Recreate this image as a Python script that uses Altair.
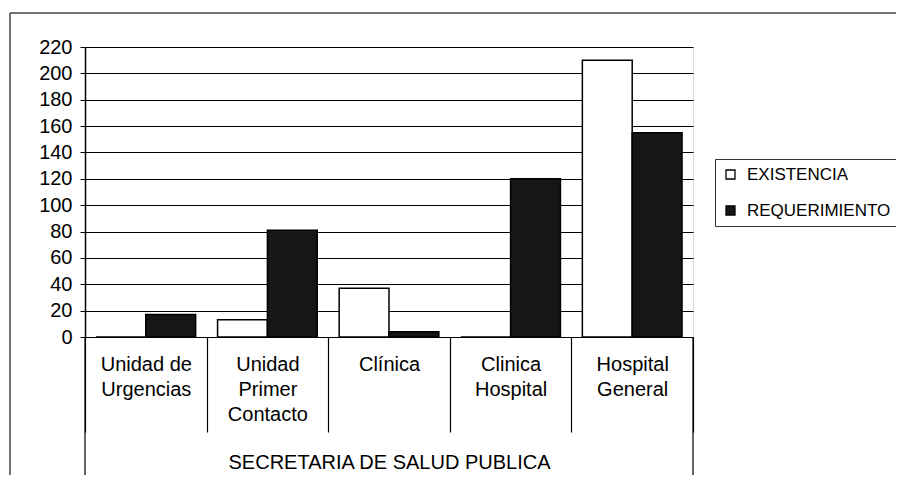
import altair as alt
import pandas as pd

# ---- data ----
categories = ["Unidad de|Urgencias", "Unidad|Primer|Contacto", "Clínica", "Clinica|Hospital", "Hospital|General"]
series = ["EXISTENCIA", "REQUERIMIENTO"]
existencia = [0, 13, 37, 0, 210]
requerimiento = [17, 81, 4, 120, 155]
y_ticks = [0, 20, 40, 60, 80, 100, 120, 140, 160, 180, 200, 220]
group_title = "SECRETARIA DE SALUD PUBLICA"

rows = []
for c, e, r in zip(categories, existencia, requerimiento):
    rows.append({"cat": c, "serie": series[0], "valor": e})
    rows.append({"cat": c, "serie": series[1], "valor": r})
df = pd.DataFrame(rows)

W, H = 608, 290
FONT = "Liberation Sans"

bars = alt.Chart(df).mark_bar(stroke="black", strokeWidth=1.5).encode(
    x=alt.X(
        "cat:N",
        sort=categories,
        scale=alt.Scale(paddingInner=0, paddingOuter=0),
        axis=alt.Axis(
            title=group_title,
            titleFontSize=20,
            titleFontWeight="normal",
            titleColor="black",
            titleFont=FONT,
            titleX=W / 2,
            titleY=131,
            titleAlign="center",
            titleBaseline="alphabetic",
            labelExpr="split(datum.label, '|')",
            labelAngle=0,
            labelFontSize=20,
            labelFont=FONT,
            labelColor="black",
            labelLineHeight=25,
            labelLimit=0,
            labelOverlap=False,
            labelPadding=-78,
            labelBaseline="top",
            tickBand="extent",
            tickSize=95,
            tickColor="black",
            tickWidth=1.2,
            domain=False,
            grid=False,
        ),
    ),
    xOffset=alt.XOffset("serie:N", sort=series, scale=alt.Scale(paddingInner=0, paddingOuter=0.22)),
    y=alt.Y(
        "valor:Q",
        scale=alt.Scale(domain=[0, 220], nice=False),
        axis=alt.Axis(
            title=None,
            values=y_ticks,
            labelFontSize=20,
            labelFont=FONT,
            labelColor="black",
            labelPadding=8,
            tickSize=5,
            tickColor="black",
            domainColor="black",
            domainWidth=1.5,
            grid=True,
            gridColor="black",
            gridWidth=1.2,
            gridOpacity=1,
        ),
    ),
    fill=alt.Fill(
        "serie:N",
        sort=series,
        scale=alt.Scale(domain=series, range=["white", "#161616"]),
        legend=alt.Legend(
            title=None,
            orient="none",
            legendX=630,
            legendY=112,
            symbolType="square",
            symbolSize=81,
            symbolStrokeColor="black",
            symbolStrokeWidth=1.3,
            labelFontSize=17,
            labelFont=FONT,
            labelColor="black",
            labelOffset=8,
            rowPadding=18,
            padding=7,
            strokeColor="#333333",
            fillColor="white",
        ),
    ),
)

one = pd.DataFrame({"k": [0]})
outer_left = alt.Chart(one).mark_rule(color="black", strokeWidth=1.2).encode(
    x=alt.value(0), y=alt.value(H), y2=alt.value(H + 140)
)
outer_right = alt.Chart(one).mark_rule(color="black", strokeWidth=1.2).encode(
    x=alt.value(W), y=alt.value(H), y2=alt.value(H + 140)
)
frame_left = alt.Chart(one).mark_rule(color="#444444", strokeWidth=1.5).encode(
    x=alt.value(-75), y=alt.value(-34), y2=alt.value(H + 160)
)
frame_top = alt.Chart(one).mark_rule(color="#444444", strokeWidth=1.5).encode(
    x=alt.value(-75), x2=alt.value(W + 230), y=alt.value(-34)
)

chart = (
    alt.layer(bars, outer_left, outer_right, frame_left, frame_top)
    .properties(
        width=W,
        height=H,
        autosize=alt.AutoSizeParams(type="none"),
        padding={"left": 77, "top": 39, "right": 203, "bottom": 138},
        background="white",
    )
    .configure_view(stroke="black", strokeWidth=1.5)
    .configure(font=FONT)
)

chart.save("out.html", embed_options={"renderer": "svg", "actions": False})
